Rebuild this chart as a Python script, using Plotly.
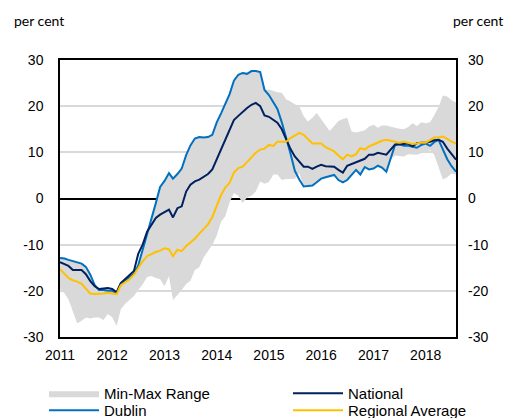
import plotly.graph_objects as go
import pandas as pd

months = pd.date_range("2011-01-01", "2018-08-01", freq="MS")

dublin = [-12.9, -13.0, -13.3, -13.6, -13.9, -14.1, -14.8, -16.5, -18.8, -19.8,
          -19.8, -20.0, -20.0, -20.5, -18.5, -17.8, -17.2, -16.3, -14.5, -11.2,
          -7.5, -4.5, -1.0, 2.5, 3.8, 5.5, 4.3, 5.3, 6.5, 9.4,
          11.5, 13.0, 13.3, 13.2, 13.3, 13.8, 16.5, 18.5, 20.5, 22.6,
          25.5, 26.8, 27.2, 27.0, 27.6, 27.6, 27.4, 23.5, 22.4, 20.8,
          19.4, 16.5, 13.4, 9.7, 6.0, 4.1, 2.6, 2.7, 2.8, 3.5,
          4.3, 4.6, 4.8, 5.1, 4.0, 3.5, 4.0, 5.2, 6.2, 5.2,
          6.8, 6.3, 6.5, 7.1, 6.7, 5.8, 8.5, 11.6, 11.8, 11.4,
          11.4, 11.2, 11.0, 11.6, 11.9, 11.4, 12.2, 12.7, 10.8, 8.5,
          7.0, 5.8]

national = [-13.8, -14.2, -14.6, -15.5, -15.5, -15.5, -16.4, -17.9, -19.0, -19.6,
            -19.5, -19.4, -19.6, -20.3, -18.3, -17.4, -16.6, -15.7, -12.0, -10.0,
            -7.2, -5.6, -4.2, -3.5, -3.0, -2.4, -4.1, -2.1, -1.7, 1.5,
            3.0, 3.7, 4.1, 4.6, 5.3, 6.3, 8.5, 10.8, 12.9, 14.8,
            17.0, 17.9, 18.8, 19.6, 20.3, 20.7, 20.0, 18.0, 17.7, 17.1,
            16.4, 15.0, 13.0, 10.7, 9.1, 8.0, 6.9, 6.9, 6.4, 6.9,
            7.3, 7.0, 6.9, 6.9, 6.2, 5.6, 7.1, 7.5, 7.9, 8.3,
            8.6, 9.5, 9.5, 9.9, 9.7, 9.5, 10.6, 11.7, 11.7, 11.8,
            11.9, 11.3, 12.0, 12.1, 12.1, 12.3, 12.6, 12.7, 12.3, 10.8,
            9.5, 8.4]

regional = [-15.3, -16.2, -17.2, -17.7, -18.0, -18.5, -19.5, -20.6, -20.7, -20.7,
            -20.6, -20.4, -20.5, -20.7, -18.8, -18.2, -17.5, -16.5, -15.0, -13.6,
            -12.5, -12.0, -11.6, -11.3, -10.8, -11.0, -12.5, -11.1, -11.4, -10.3,
            -9.6, -8.7, -7.6, -6.5, -5.6, -4.0, -1.7, 0.8, 2.3, 3.4,
            5.6, 6.6, 6.9, 8.0, 8.9, 9.9, 10.6, 10.8, 11.6, 11.4,
            12.3, 12.3, 12.3, 13.1, 13.7, 14.2, 13.8, 12.9, 11.9, 11.9,
            11.9, 11.1, 10.7, 10.2, 9.3, 8.5, 9.5, 9.1, 9.6, 10.9,
            10.6, 11.3, 11.7, 12.1, 12.5, 12.7, 12.5, 12.3, 12.1, 12.3,
            12.1, 11.8, 11.9, 12.1, 12.1, 12.6, 13.2, 13.2, 13.4, 12.9,
            12.3, 11.9]

range_max = [-12.7, -12.8, -13.1, -13.4, -13.7, -13.9, -14.6, -16.3, -18.6, -19.6,
             -19.6, -19.8, -19.8, -20.3, -18.3, -17.6, -17.0, -16.1, -14.3, -11.0,
             -7.3, -4.3, -0.8, 2.7, 4.0, 5.7, 4.5, 5.5, 6.7, 9.6,
             11.7, 13.2, 13.5, 13.4, 13.5, 14.0, 16.7, 18.7, 20.7, 22.8,
             25.7, 27.0, 27.4, 27.2, 27.8, 27.8, 27.6, 23.5, 23.6, 23.3,
             23.0, 22.9, 21.5, 21.0, 20.4, 20.0, 17.8, 16.7, 17.5, 18.5,
             17.2, 15.9, 14.6, 15.7, 16.8, 17.2, 17.5, 14.5, 14.3, 14.5,
             14.8, 15.6, 16.0, 15.3, 15.8, 15.8, 15.5, 15.3, 15.1, 15.0,
             15.5, 16.3, 15.7, 16.5, 16.3, 16.5, 18.0, 19.8, 22.3, 22.1,
             21.3, 20.8]

range_min = [-19.6, -20.5, -21.8, -24.5, -27.0, -26.5, -25.8, -26.0, -25.8, -25.8,
             -26.3, -25.0, -25.7, -27.6, -24.0, -22.8, -22.0, -21.1, -19.8, -18.6,
             -17.0, -16.8, -17.2, -17.5, -19.0, -16.8, -22.0, -21.0, -19.8, -18.5,
             -17.8, -15.5, -14.9, -12.8, -11.5, -10.0, -8.0, -5.0, -3.9, -0.8,
             1.2, 0.6, -1.0, 0.2, 0.6, 1.5, 3.7, 3.2, 3.6, 5.2,
             5.2, 4.0, 4.2, 4.2, 4.3, 5.5, 2.6, 2.7, 2.8, 3.5,
             4.3, 4.6, 4.8, 5.1, 4.0, 3.5, 4.0, 5.2, 6.2, 5.2,
             6.8, 6.3, 6.5, 7.1, 6.7, 5.8, 8.5, 9.3, 9.2, 9.1,
             9.6, 9.6, 9.5, 9.8, 10.0, 10.5, 9.5, 6.8, 4.1, 4.6,
             5.4, 5.2]

y_ticks = [-30, -20, -10, 0, 10, 20, 30]
y_tick_labels = ["-30", "-20", "-10", "0", "10", "20", "30"]
x_ticks = pd.date_range("2011-01-01", "2018-01-01", freq="YS")
x_tick_labels = [str(d.year) for d in x_ticks]

FONT = "Liberation Sans, Arial, sans-serif"
TITLE_FONT = "Lato, Carlito, sans-serif"
GRAY = "#D9D9D9"

fig = go.Figure()
fig.add_trace(go.Scatter(x=months, y=range_min, mode="lines", line=dict(width=0),
                         showlegend=False, hoverinfo="skip", legend="legend"))
fig.add_trace(go.Scatter(x=months, y=range_max, mode="lines", line=dict(width=0),
                         fill="tonexty", fillcolor=GRAY, name="Min-Max Range",
                         legend="legend"))
fig.add_trace(go.Scatter(x=months, y=dublin, mode="lines",
                         line=dict(color="#0070C0", width=2), name="Dublin",
                         legend="legend3"))
fig.add_trace(go.Scatter(x=months, y=national, mode="lines",
                         line=dict(color="#002060", width=2), name="National",
                         legend="legend2"))
fig.add_trace(go.Scatter(x=months, y=regional, mode="lines",
                         line=dict(color="#FFC000", width=2), name="Regional Average",
                         legend="legend4"))
# right-axis copy (invisible) so the mirrored axis is drawn
fig.add_trace(go.Scatter(x=months, y=national, mode="lines", yaxis="y2",
                         line=dict(width=0), opacity=0, showlegend=False,
                         hoverinfo="skip"))

yaxis_common = dict(range=[-30, 30], tickvals=y_ticks, ticktext=y_tick_labels,
                    tickfont=dict(family=FONT, size=14, color="#000"),
                    ticks="", automargin=False)

legend_common = dict(orientation="v", xanchor="left", yanchor="top",
                     traceorder="normal",
                     font=dict(family=FONT, size=15, color="#000"),
                     tracegroupgap=0, itemwidth=50, bgcolor="rgba(0,0,0,0)")
row1 = (337 - 377) / 277
row2 = (337 - 394) / 277
col1 = (44 - 60) / 396
col2 = (288 - 60) / 396

fig.update_layout(
    width=509, height=418,
    margin=dict(l=60, r=53, t=60, b=81, autoexpand=False),
    paper_bgcolor="white", plot_bgcolor="white",
    font=dict(family=FONT, color="#000"),
    xaxis=dict(range=[months[0], months[-1]], tickvals=x_ticks, ticktext=x_tick_labels,
               tickfont=dict(family=FONT, size=14), ticks="", showgrid=False,
               showline=True, linecolor="#000", linewidth=1.5, mirror=True,
               ticklabelstandoff=4, automargin=False),
    yaxis=dict(**yaxis_common, showgrid=True, gridcolor=GRAY, gridwidth=1.5,
               zeroline=True, zerolinecolor="#000", zerolinewidth=1.5,
               showline=True, linecolor="#000", linewidth=1.5, mirror=True,
               ticklabelstandoff=12),
    yaxis2=dict(**yaxis_common, overlaying="y", side="right", showgrid=False,
                zeroline=False, showline=False, ticklabelstandoff=11),
    legend=dict(**legend_common, x=col1, y=row1),
    legend2=dict(**legend_common, x=col2, y=row1),
    legend3=dict(**legend_common, x=col1, y=row2),
    legend4=dict(**legend_common, x=col2, y=row2),
    showlegend=True,
    annotations=[
        dict(text="per cent", xref="paper", yref="paper", x=-0.121, y=1.144,
             xanchor="left", yanchor="middle", showarrow=False,
             font=dict(family=TITLE_FONT, size=14, color="#000")),
        dict(text="per cent", xref="paper", yref="paper", x=1.124, y=1.144,
             xanchor="right", yanchor="middle", showarrow=False,
             font=dict(family=TITLE_FONT, size=14, color="#000")),
    ],
)

fig.write_html("out.html", config={"displayModeBar": False},
               post_script="document.body.style.margin='0';")
